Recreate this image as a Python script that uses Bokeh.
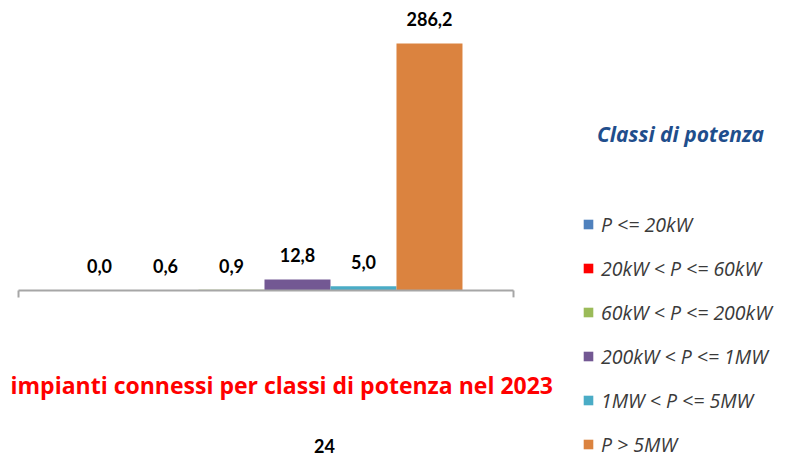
from bokeh.plotting import figure
from bokeh.models import ColumnDataSource, Range1d, Legend, LegendItem, Label
from bokeh.core.properties import value
from bokeh.embed import file_html
from bokeh.resources import INLINE

# ---- data ----
categories = ["P <= 20kW", "20kW < P <= 60kW", "60kW < P <= 200kW",
              "200kW < P <= 1MW", "1MW < P <= 5MW", "P > 5MW"]
values = [0.0, 0.6, 0.9, 12.8, 5.0, 286.2]
value_labels = ["0,0", "0,6", "0,9", "12,8", "5,0", "286,2"]
colors = ["#4F81BD", "#FF0000", "#9BBB59", "#735893", "#4AACC6", "#DB833F"]
title_text = "impianti connessi per classi di potenza nel 2023"
legend_title = "Classi di potenza"
page_number = "24"

n = len(categories)
idx = list(range(n))

W, H = 776, 458
p = figure(width=W, height=H, output_backend="svg", toolbar_location=None,
           x_range=Range1d(-1.5, 10.258), y_range=Range1d(-194.7, 336.0),
           x_axis_type=None, y_axis_type=None, min_border=0,
           outline_line_color=None)
p.grid.visible = False
p.background_fill_color = "white"

src = ColumnDataSource(dict(x=idx, top=values, lab=value_labels, color=colors, cat=categories))
bars = p.vbar(x="x", top="top", width=1.0, bottom=0, fill_color="color",
              line_color=None, source=src)

# value labels
p.text(x="x", y="top", text="lab", source=src, text_align="center",
       text_baseline="middle", y_offset=-24, text_font=value("Lato"),
       text_font_style="bold", text_font_size="18px", text_color="#000000")

# axis line with end ticks
left_end = -0.5 - 0.727
right_end = n - 0.5 + 0.773
p.segment(x0=[left_end], y0=[0], x1=[right_end], y1=[0], line_color="#A6A6A6", line_width=2)
p.segment(x0=[left_end, right_end], y0=[0, 0], x1=[left_end, right_end], y1=[-8, -8],
          line_color="#A6A6A6", line_width=2)

# legend
items = [LegendItem(label=c, renderers=[bars], index=i) for i, c in enumerate(categories)]
legend = Legend(items=items, location=(582, 0), orientation="vertical",
                padding=0, margin=0, spacing=16, label_standoff=7,
                glyph_width=12, glyph_height=12, label_height=28,
                label_text_font="Open Sans", label_text_font_style="italic",
                label_text_font_size="19.5px", label_text_color="#3A3A3A",
                border_line_color=None, background_fill_alpha=0)
p.add_layout(legend)

p.add_layout(Label(x=680, y=H - 133, x_units="screen", y_units="screen",
                   text=legend_title, text_align="center", text_baseline="middle",
                   text_font="Open Sans", text_font_style="bold italic",
                   text_font_size="21px", text_color="#1F4E8C"))

p.add_layout(Label(x=10, y=H - 384, x_units="screen", y_units="screen",
                   text=title_text, text_align="left", text_baseline="middle",
                   text_font="Open Sans", text_font_style="bold",
                   text_font_size="23px", text_color="#FF0000"))

p.add_layout(Label(x=324, y=6, x_units="screen", y_units="screen",
                   text=page_number, text_align="center", text_baseline="bottom",
                   text_font="Lato", text_font_style="bold",
                   text_font_size="18px", text_color="#000000"))

open("out.html", "w").write(file_html(p, INLINE))
